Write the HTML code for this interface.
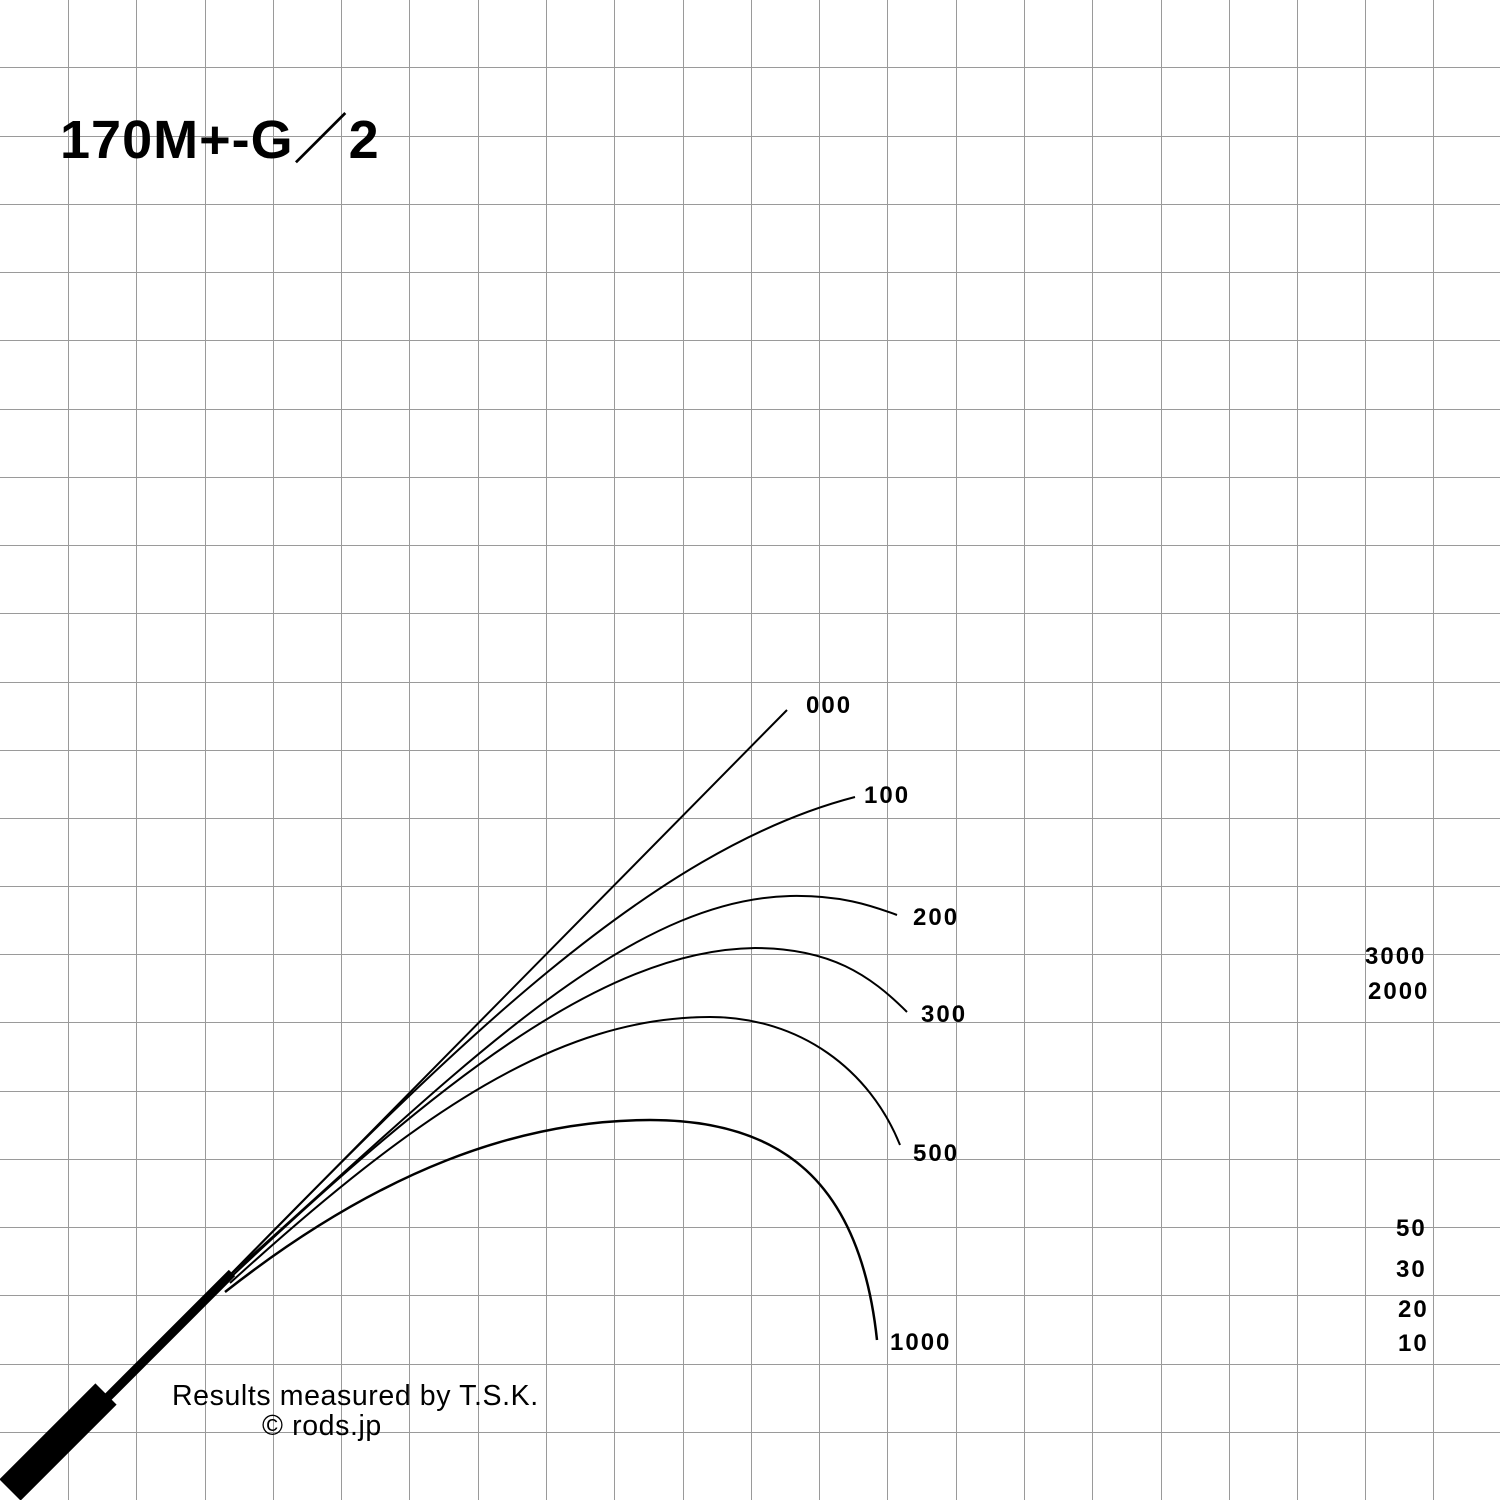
<!DOCTYPE html>
<html><head><meta charset="utf-8"><style>
html,body{margin:0;padding:0;background:#fff;}
svg{display:block;}
.l{font-family:"Liberation Sans",sans-serif;font-weight:bold;font-size:24px;fill:#000;letter-spacing:2px;}
</style></head><body>
<svg width="1500" height="1500" viewBox="0 0 1500 1500" xmlns="http://www.w3.org/2000/svg">
<g stroke="#9a9a9a" stroke-width="1">
<line x1="68.5" y1="0" x2="68.5" y2="1500"/><line x1="136.5" y1="0" x2="136.5" y2="1500"/><line x1="205.5" y1="0" x2="205.5" y2="1500"/><line x1="273.5" y1="0" x2="273.5" y2="1500"/><line x1="341.5" y1="0" x2="341.5" y2="1500"/><line x1="409.5" y1="0" x2="409.5" y2="1500"/><line x1="478.5" y1="0" x2="478.5" y2="1500"/><line x1="546.5" y1="0" x2="546.5" y2="1500"/><line x1="614.5" y1="0" x2="614.5" y2="1500"/><line x1="683.5" y1="0" x2="683.5" y2="1500"/><line x1="751.5" y1="0" x2="751.5" y2="1500"/><line x1="819.5" y1="0" x2="819.5" y2="1500"/><line x1="887.5" y1="0" x2="887.5" y2="1500"/><line x1="956.5" y1="0" x2="956.5" y2="1500"/><line x1="1024.5" y1="0" x2="1024.5" y2="1500"/><line x1="1092.5" y1="0" x2="1092.5" y2="1500"/><line x1="1161.5" y1="0" x2="1161.5" y2="1500"/><line x1="1229.5" y1="0" x2="1229.5" y2="1500"/><line x1="1297.5" y1="0" x2="1297.5" y2="1500"/><line x1="1365.5" y1="0" x2="1365.5" y2="1500"/><line x1="1433.5" y1="0" x2="1433.5" y2="1500"/>
<line y1="67.5" x1="0" y2="67.5" x2="1500"/><line y1="136.5" x1="0" y2="136.5" x2="1500"/><line y1="204.5" x1="0" y2="204.5" x2="1500"/><line y1="272.5" x1="0" y2="272.5" x2="1500"/><line y1="340.5" x1="0" y2="340.5" x2="1500"/><line y1="409.5" x1="0" y2="409.5" x2="1500"/><line y1="477.5" x1="0" y2="477.5" x2="1500"/><line y1="545.5" x1="0" y2="545.5" x2="1500"/><line y1="613.5" x1="0" y2="613.5" x2="1500"/><line y1="682.5" x1="0" y2="682.5" x2="1500"/><line y1="750.5" x1="0" y2="750.5" x2="1500"/><line y1="818.5" x1="0" y2="818.5" x2="1500"/><line y1="886.5" x1="0" y2="886.5" x2="1500"/><line y1="954.5" x1="0" y2="954.5" x2="1500"/><line y1="1022.5" x1="0" y2="1022.5" x2="1500"/><line y1="1091.5" x1="0" y2="1091.5" x2="1500"/><line y1="1159.5" x1="0" y2="1159.5" x2="1500"/><line y1="1227.5" x1="0" y2="1227.5" x2="1500"/><line y1="1295.5" x1="0" y2="1295.5" x2="1500"/><line y1="1364.5" x1="0" y2="1364.5" x2="1500"/><line y1="1432.5" x1="0" y2="1432.5" x2="1500"/>
</g>
<g fill="none" stroke="#000" stroke-width="2">
<path d="M230,1275 L787,710"/>
<path d="M230,1275 C450,1050 650,850 855,797"/>
<path d="M230,1275 C450,1080 620,900 790,896 C840,895 870,905 897,915"/>
<path d="M230,1278 C430,1090 600,950 755,948 C830,948 870,975 907,1012"/>
<path d="M230,1283 C420,1110 560,1017 710,1017 C800,1017 870,1070 900,1145"/>
<path d="M225,1292 C380,1170 520,1120 650,1120 C780,1120 860,1180 877,1340" stroke-width="2.5"/>
</g>
<line x1="105" y1="1400" x2="232" y2="1273" stroke="#000" stroke-width="9"/>
<line x1="10" y1="1490" x2="106" y2="1394" stroke="#000" stroke-width="30"/>
<text x="60" y="158" font-family="Liberation Sans, 'Noto Sans CJK JP', sans-serif" font-weight="bold" font-size="54" letter-spacing="1">170M+-G<tspan font-family="'Noto Sans CJK JP', sans-serif" font-weight="900">／</tspan>2</text>
<text class="l" x="806" y="713">000</text>
<text class="l" x="864" y="803">100</text>
<text class="l" x="913" y="925">200</text>
<text class="l" x="921" y="1022">300</text>
<text class="l" x="913" y="1161">500</text>
<text class="l" x="890" y="1350">1000</text>
<text class="l" x="1365" y="964">3000</text>
<text class="l" x="1368" y="999">2000</text>
<text class="l" x="1396" y="1236">50</text>
<text class="l" x="1396" y="1277">30</text>
<text class="l" x="1398" y="1317">20</text>
<text class="l" x="1398" y="1351">10</text>
<text x="172" y="1405" font-family="Liberation Sans, sans-serif" font-size="28.5" letter-spacing="0.6">Results measured by T.S.K.</text>
<text x="262" y="1435" font-family="Liberation Sans, sans-serif" font-size="28.5" letter-spacing="0.6">© rods.jp</text>
</svg>
</body></html>
